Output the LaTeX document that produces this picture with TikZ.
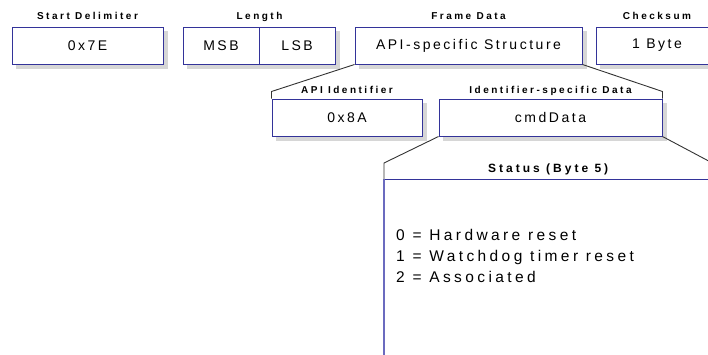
\documentclass[tikz,border=0pt]{standalone}
\usepackage{fontspec}
\setmainfont{Liberation Sans}
\definecolor{framecolor}{rgb}{0.2,0.2,0.6}
\definecolor{panelcolor}{rgb}{0.42,0.42,0.75}
\definecolor{shadecolor}{rgb}{0.84,0.84,0.84}
\usetikzlibrary{positioning,backgrounds}
\tikzset{
	field/.style={
		rectangle,
		draw=framecolor,
		line width=1pt,
		fill=white,
		minimum height=37pt,
		inner sep=0pt,
		font=\fontsize{14}{16}\selectfont\addfontfeature{LetterSpace=18}
	},
	caption/.style={
		inner sep=0pt,
		text depth=0pt,
		font=\bfseries\fontsize{10}{12}\selectfont\addfontfeature{LetterSpace=25}
	},
	zoomline/.style={
		draw=black!80,
		line width=0.9pt
	},
	panel/.style={
		rectangle,
		inner sep=0pt
	},
	codes/.style={
		align=left,
		inner sep=0pt,
		font=\fontsize{15.5}{21}\selectfont\addfontfeature{LetterSpace=22}
	},
}

\begin{document}
\begin{tikzpicture}[x=1pt,y=-1pt,node distance=7pt]
\useasboundingbox (0,0) rectangle (708,354);
% top frame
\node [field,minimum width=151pt] (sd) at (87.5,45.5) {0x7E};
\node [field,minimum width=76pt] (msb) at (221,45.5) {MSB};
\node [field,minimum width=76pt] (lsb) at (297,45.5) {LSB};
\node [field,minimum width=227pt] (fd) at (468.5,45.5) {API-specific Structure};
\node [field,minimum width=122pt] (cs) at (657,45.5) {1 Byte};

\node [caption,above=of sd] (sdcap) {Start Delimiter};
\node [caption,above=of msb.north east] (lencap) {Length};
\node [caption,above=of fd] (fdcap) {Frame Data};
\node [caption,above=of cs] (cscap) {Checksum};

% frame data
\node [field,minimum width=150pt] (api) at (347,117.5) {0x8A};
\node [field,minimum width=223pt] (isd) at (550.5,117.5) {cmdData};
\node [caption,above=5pt of api] (apicap) {API Identifier};
\node [caption,above=5pt of isd] (isdcap) {Identifier-specific Data};

\draw[zoomline] (fd.south west) -- ([yshift=7pt]api.north west) -- (api.north west);
\draw[zoomline] (fd.south east) -- ([yshift=7pt]isd.north east) -- (isd.north east);

% shadows
\begin{scope}[on background layer]
\foreach \f in {sd,msb,lsb,fd,cs,api,isd}
	\fill[shadecolor] ([xshift=4pt,yshift=-4pt]\f.south west) rectangle ([xshift=4pt,yshift=-4pt]\f.north east);
\end{scope}

% status byte
\node [panel,minimum width=328pt,minimum height=200pt,anchor=north west] (st) at (384,179) {};
\node [caption,above=6pt of st,font=\bfseries\fontsize{12}{14}\selectfont\addfontfeature{LetterSpace=25}] (stcap) {Status (Byte 5)};
\draw[framecolor,line width=1pt] (st.north west) -- (st.north east);
\draw[panelcolor,line width=1.6pt] (st.north west) -- (st.south west);
\node [codes,anchor=west] (stcodes) at (396,256) {0 = Hardware reset\\1 = Watchdog timer reset\\2 = Associated};

\draw[zoomline] (isd.south west) -- ([yshift=16pt]st.north west) -- (st.north west);
\draw[zoomline] (isd.south east) -- ([yshift=16pt]st.north east);
\end{tikzpicture}
\end{document}
